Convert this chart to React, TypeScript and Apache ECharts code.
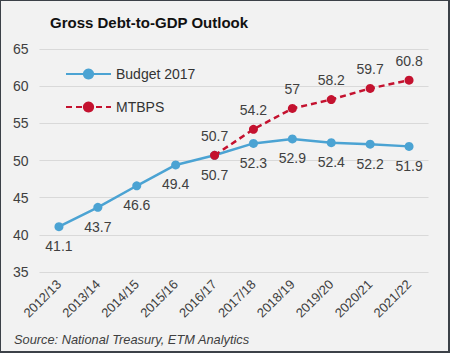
import React, { useEffect, useRef } from "react";
import * as echarts from "echarts";

const categories = ["2012/13", "2013/14", "2014/15", "2015/16", "2016/17", "2017/18", "2018/19", "2019/20", "2020/21", "2021/22"];
const budget2017 = [41.1, 43.7, 46.6, 49.4, 50.7, 52.3, 52.9, 52.4, 52.2, 51.9];
const mtbps = [null, null, null, null, 50.7, 54.2, 57, 58.2, 59.7, 60.8];
const yTicks = { min: 35, max: 65, interval: 5 };

export default function App() {
  const ref = useRef<HTMLDivElement>(null);
  useEffect(() => {
    document.body.style.margin = "0";
    const chart = echarts.init(ref.current!, null, { renderer: "svg" });
    const font = "'Liberation Sans', Arial, sans-serif";
    chart.setOption({
      animation: false,
      backgroundColor: "transparent",
      textStyle: { fontFamily: font },
      title: {
        text: "Gross Debt-to-GDP Outlook",
        left: 45,
        top: 10,
        textStyle: { fontSize: 15, fontWeight: "bold", color: "#111", fontFamily: font },
      },
      legend: {
        orient: "vertical",
        left: 60,
        top: 62,
        itemWidth: 45,
        itemHeight: 14,
        itemGap: 19,
        textStyle: { fontSize: 14, color: "#333", fontFamily: font },
        data: ["Budget 2017", "MTBPS"],
      },
      graphic: [
        {
          type: "text",
          left: 14,
          top: 333,
          style: {
            text: "Source: National Treasury, ETM Analytics",
            fontSize: 12.8,
            fontStyle: "italic",
            fill: "#404040",
            fontFamily: font,
          },
        },
      ],
      grid: { left: 39.5, right: 21.5, top: 49, bottom: 81, containLabel: false },
      xAxis: {
        type: "category",
        data: categories,
        boundaryGap: true,
        axisLine: { show: false },
        axisTick: { show: false },
        axisLabel: { rotate: 45, fontSize: 13, color: "#404040", margin: 10, interval: 0 },
      },
      yAxis: {
        type: "value",
        min: yTicks.min,
        max: yTicks.max,
        interval: yTicks.interval,
        axisLine: { show: false },
        axisTick: { show: false },
        axisLabel: { fontSize: 14, color: "#404040", margin: 11 },
        splitLine: { lineStyle: { color: "#d9d9d9", width: 1 } },
      },
      series: [
        {
          name: "Budget 2017",
          type: "line",
          data: budget2017,
          symbol: "circle",
          symbolSize: 9,
          itemStyle: { color: "#4ba3d3" },
          lineStyle: { color: "#4ba3d3", width: 2.5 },
          label: { show: true, position: "bottom", distance: 8, fontSize: 14, color: "#404040" },
          z: 2,
        },
        {
          name: "MTBPS",
          type: "line",
          data: mtbps,
          symbol: "circle",
          symbolSize: 9,
          itemStyle: { color: "#c4122f" },
          lineStyle: { color: "#c4122f", width: 2.5, type: [6, 4] },
          label: { show: true, position: "top", distance: 8, fontSize: 14, color: "#404040" },
          z: 3,
        },
      ],
    });
    return () => chart.dispose();
  }, []);
  return (
    <div
      style={{
        width: 450,
        height: 353,
        boxSizing: "border-box",
        background: "#f2f2f2",
        borderStyle: "solid",
        borderColor: "#3c4148",
        borderWidth: "1px 2px 2px 1px",
        position: "relative",
      }}
    >
      <div ref={ref} style={{ position: "absolute", left: -1, top: -1, width: 450, height: 353 }} />
    </div>
  );
}
